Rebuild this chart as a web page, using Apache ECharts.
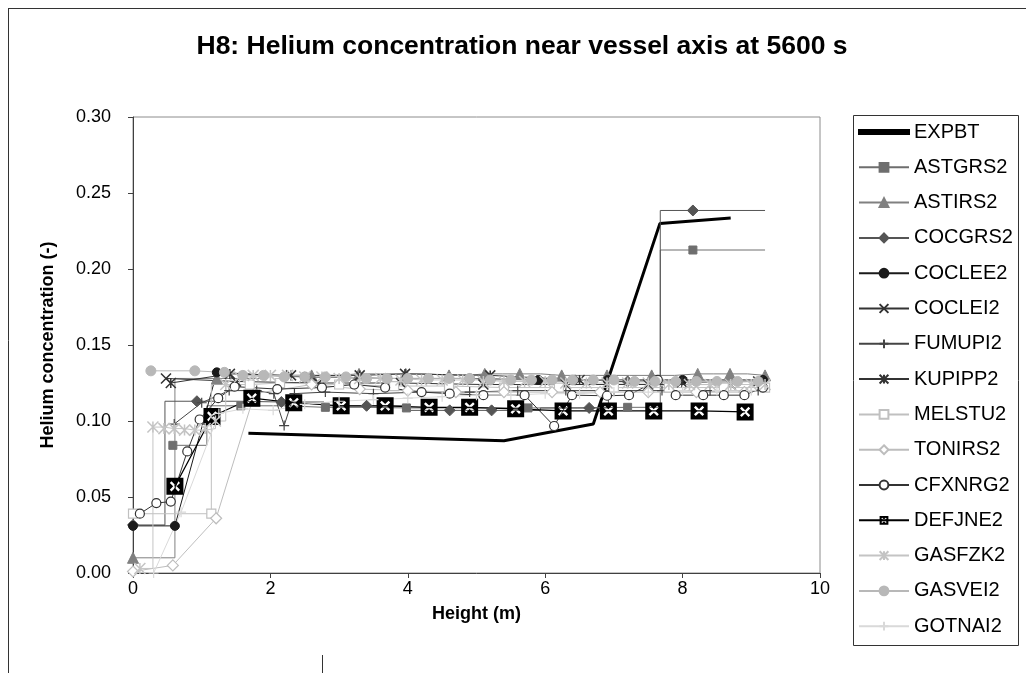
<!DOCTYPE html>
<html>
<head>
<meta charset="utf-8">
<script src="https://cdn.jsdelivr.net/npm/echarts@6/dist/echarts.min.js"></script>
<style>
  html, body { margin: 0; padding: 0; background: #fff; }
  #chart { width: 1026px; height: 673px; }
</style>
</head>
<body>
<div id="chart"></div>
<script>
// values, [height (m), concentration (-)]
const titleText = "H8: Helium concentration near vessel axis at 5600 s";
const seriesNames = ["EXPBT", "ASTGRS2", "ASTIRS2", "COCGRS2", "COCLEE2", "COCLEI2", "FUMUPI2",
  "KUPIPP2", "MELSTU2", "TONIRS2", "CFXNRG2", "DEFJNE2", "GASFZK2", "GASVEI2", "GOTNAI2"];

const expbt = [[1.68, 0.092], [5.4, 0.087], [6.7, 0.098], [7.67, 0.230], [8.7, 0.2335]];
const astgrs2 = [[0.58, 0.084], [1.57, 0.110], [2.8, 0.109], [3.98, 0.1086], [5.75, 0.1086], [7.2, 0.109], [8.15, 0.2125]];
const astgrs2Tail = [[8.15, 0.2125], [9.2, 0.2125]];
const astirs2 = [[0, 0.010], [1.22, 0.128], [2.6, 0.130], [3.29, 0.131], [3.97, 0.131], [4.6, 0.130], [5.12, 0.131],
  [5.63, 0.131], [6.24, 0.130], [6.9, 0.130], [7.55, 0.130], [8.22, 0.131], [8.69, 0.131], [9.2, 0.130]];
const cocgrs2 = [[0, 0.0316], [0.93, 0.113], [2.16, 0.1125], [3.4, 0.110], [4.61, 0.107], [5.22, 0.107],
  [6.64, 0.1086], [7.2, 0.126], [8.15, 0.2385]];
const cocgrs2Tail = [[8.15, 0.2385], [9.2, 0.2385]];
const coclee2 = [[0, 0.031], [0.61, 0.031], [1.22, 0.132], [2.5, 0.129], [3.7, 0.128], [4.9, 0.128], [5.9, 0.127],
  [6.91, 0.127], [8.0, 0.127], [9.17, 0.127]];
const coclei2 = [[0.48, 0.128], [1.5, 0.126], [2.7, 0.125], [3.9, 0.125], [5.1, 0.124], [6.3, 0.124], [7.5, 0.124], [8.7, 0.124]];
const fumupi2 = [[0.6, 0.098], [1.0, 0.112], [1.4, 0.120], [1.8, 0.120], [2.05, 0.118], [2.2, 0.097], [2.35, 0.118],
  [2.8, 0.119], [3.5, 0.118], [4.2, 0.119], [4.9, 0.119], [5.6, 0.120], [6.3, 0.120], [7.0, 0.120], [7.7, 0.120],
  [8.4, 0.120], [9.1, 0.120]];
const kupipp2 = [[0.55, 0.125], [1.41, 0.131], [2.3, 0.130], [3.3, 0.130], [3.96, 0.131], [5.2, 0.130], [6.5, 0.127],
  [7.99, 0.1255], [9.1, 0.126]];
const melstu2 = [[0, 0.039], [1.14, 0.039], [1.7, 0.124], [2.14, 0.125], [3.0, 0.124], [3.8, 0.123], [4.6, 0.123],
  [5.4, 0.122], [6.2, 0.122], [7.0, 0.122], [7.8, 0.122], [8.6, 0.122], [9.2, 0.122]];
const tonirs2 = [[0, 0.001], [0.58, 0.005], [1.21, 0.036], [1.77, 0.118], [2.6, 0.124], [3.3, 0.121], [4.0, 0.120],
  [4.7, 0.119], [5.4, 0.119], [6.1, 0.119], [6.8, 0.119], [7.5, 0.119], [8.2, 0.119], [8.9, 0.119]];
const cfxnrg2 = [[0.1, 0.039], [0.34, 0.046], [0.55, 0.047], [0.79, 0.080], [0.97, 0.101], [1.24, 0.115], [1.48, 0.1226],
  [2.1, 0.121], [2.75, 0.122], [3.22, 0.124], [3.67, 0.122], [4.2, 0.119], [4.61, 0.118], [5.1, 0.117], [5.7, 0.117],
  [6.13, 0.0967], [6.39, 0.117], [6.9, 0.1166], [7.22, 0.117], [7.64, 0.127], [7.9, 0.117], [8.3, 0.117],
  [8.6, 0.117], [8.9, 0.117], [9.17, 0.122]];
const defjne2 = [[0.61, 0.057], [1.15, 0.103], [1.73, 0.115], [2.34, 0.112], [3.03, 0.110], [3.67, 0.110], [4.31, 0.109],
  [4.9, 0.109], [5.57, 0.108], [6.26, 0.1066], [6.92, 0.1066], [7.58, 0.1066], [8.24, 0.1066], [8.91, 0.106]];
const gasfzk2 = [[0.1, 0.003], [0.29, 0.096], [0.45, 0.095], [0.6, 0.095], [0.75, 0.094], [0.9, 0.094], [1.05, 0.095],
  [1.2, 0.100], [1.35, 0.124], [1.55, 0.129], [1.75, 0.130], [2.0, 0.130], [2.25, 0.130], [2.5, 0.129], [2.75, 0.129],
  [3.0, 0.128], [3.3, 0.128], [3.6, 0.128], [3.9, 0.127], [4.2, 0.127], [4.5, 0.127], [4.8, 0.127], [5.1, 0.126],
  [5.4, 0.126], [5.7, 0.126], [6.0, 0.126], [6.3, 0.125], [6.6, 0.125], [6.9, 0.125], [7.2, 0.125], [7.5, 0.125],
  [7.8, 0.124], [8.1, 0.124], [8.4, 0.124], [8.7, 0.124], [9.0, 0.124], [9.2, 0.124]];
const gasvei2 = [[0.26, 0.133], [0.9, 0.133], [1.33, 0.132], [1.6, 0.130], [1.9, 0.130], [2.2, 0.129], [2.5, 0.129],
  [2.8, 0.129], [3.1, 0.129], [3.4, 0.128], [3.7, 0.128], [4.0, 0.128], [4.3, 0.128], [4.6, 0.128], [4.9, 0.128],
  [5.2, 0.127], [5.5, 0.127], [5.8, 0.127], [6.1, 0.127], [6.4, 0.127], [6.7, 0.127], [7.0, 0.127], [7.3, 0.126],
  [7.6, 0.126], [7.9, 0.126], [8.2, 0.126], [8.5, 0.126], [8.8, 0.126], [9.1, 0.126]];
const gotnai2 = [[0.3, 0.0], [0.7, 0.040], [1.25, 0.105], [1.6, 0.108], [2.04, 0.107], [2.5, 0.111], [3.0, 0.113],
  [3.5, 0.114], [4.0, 0.115], [4.5, 0.116], [5.0, 0.117], [5.5, 0.117], [6.0, 0.118], [6.5, 0.118], [7.0, 0.119],
  [7.5, 0.119], [8.0, 0.120], [8.5, 0.120], [9.0, 0.120]];

const FONT = '"Liberation Sans", Arial, sans-serif';
const SYM_X = 'path://M0,0L10,10M10,0L0,10';
const SYM_PLUS = 'path://M5,0L5,10M0,5L10,5';
const SYM_STAR = 'path://M5,0L5,10M0,0L10,10M10,0L0,10';
const SYM_BOXX = 'path://M0,0L100,0L100,100L0,100ZM40,50L20,70L30,80L50,60L70,80L80,70L60,50L80,30L70,20L50,40L30,20L20,30Z';
const ICON_THICK = 'path://M0,0L50,0L50,4L0,4Z';

function line(name, data, color, o) {
  o = o || {};
  return {
    name: name,
    type: 'line',
    data: data,
    step: o.step || false,
    symbol: o.symbol || 'none',
    symbolSize: o.size || 8,
    showAllSymbol: true,
    lineStyle: { color: color, width: o.width || 1 },
    itemStyle: {
      color: o.fill || color,
      borderColor: color,
      borderWidth: o.border == null ? 1 : o.border
    },
    emphasis: { disabled: true },
    z: o.z || 2
  };
}

const legendData = seriesNames.map(function (n) {
  return n === 'EXPBT' ? { name: n, icon: ICON_THICK } : { name: n };
});

const chart = echarts.init(document.getElementById('chart'), null, { renderer: 'canvas' });

chart.setOption({
  animation: false,
  backgroundColor: '#fff',
  textStyle: { fontFamily: FONT },
  grid: {
    left: 133, top: 117, width: 687, height: 456,
    show: true, borderColor: '#8c8c8c', borderWidth: 1, backgroundColor: 'transparent'
  },
  legend: {
    data: legendData,
    orient: 'vertical',
    left: 853,
    top: 117,
    padding: 5,
    itemWidth: 50,
    itemHeight: 11,
    itemGap: 15.3,
    textStyle: { fontSize: 20, color: '#000', fontFamily: FONT }
  },
  xAxis: {
    type: 'value', min: 0, max: 10, interval: 2,
    name: 'Height (m)', nameLocation: 'middle', nameGap: 32,
    nameTextStyle: { fontSize: 18, fontWeight: 'bold', color: '#000' },
    axisLine: { show: true, lineStyle: { color: '#404040' } },
    axisTick: { show: true, length: 5, lineStyle: { color: '#404040' } },
    axisLabel: { fontSize: 18, color: '#000', margin: 7 },
    splitLine: { show: false }
  },
  yAxis: {
    type: 'value', min: 0, max: 0.3, interval: 0.05,
    name: 'Helium concentration (-)', nameLocation: 'middle', nameGap: 76, nameRotate: 90,
    nameTextStyle: { fontSize: 18, fontWeight: 'bold', color: '#000' },
    axisLine: { show: true, lineStyle: { color: '#404040' } },
    axisTick: { show: true, length: 5, lineStyle: { color: '#404040' } },
    axisLabel: { fontSize: 18, color: '#000', margin: 22, formatter: function (v) { return v.toFixed(2); } },
    splitLine: { show: false }
  },
  graphic: [
    { type: 'line', shape: { x1: 8.5, y1: 8, x2: 8.5, y2: 673 }, style: { stroke: '#333', lineWidth: 1 } },
    { type: 'line', shape: { x1: 8, y1: 8.5, x2: 1026, y2: 8.5 }, style: { stroke: '#333', lineWidth: 1 } },
    { type: 'line', shape: { x1: 322.5, y1: 655, x2: 322.5, y2: 673 }, style: { stroke: '#333', lineWidth: 1 } },
    { type: 'rect', shape: { x: 853.5, y: 115.5, width: 165, height: 530 }, style: { fill: 'none', stroke: '#333', lineWidth: 1 } },
    { type: 'text', x: 522, y: 47, style: { text: titleText, font: 'bold 26.5px ' + FONT, fill: '#000', textAlign: 'center', textVerticalAlign: 'middle' } }
  ],
  series: [
    line('EXPBT', expbt, '#000', { width: 3 }),
    line('ASTGRS2', astgrs2, '#6e6e6e', { symbol: 'rect', size: 8, step: 'middle' }),
    line('ASTIRS2', astirs2, '#808080', { symbol: 'triangle', size: 11, step: 'middle' }),
    line('COCGRS2', cocgrs2, '#555', { symbol: 'diamond', size: 11, step: 'middle' }),
    line('COCLEE2', coclee2, '#1a1a1a', { symbol: 'circle', size: 9 }),
    line('COCLEI2', coclei2, '#333', { symbol: SYM_X, size: 10, border: 1.5 }),
    line('FUMUPI2', fumupi2, '#444', { symbol: SYM_PLUS, size: 10, border: 1.2 }),
    line('KUPIPP2', kupipp2, '#333', { symbol: SYM_STAR, size: 10, border: 1.5 }),
    line('MELSTU2', melstu2, '#c0c0c0', { symbol: 'rect', fill: '#fff', size: 9, step: 'start', border: 1.2 }),
    line('TONIRS2', tonirs2, '#bdbdbd', { symbol: 'diamond', fill: '#fff', size: 11, border: 1.2 }),
    line('CFXNRG2', cfxnrg2, '#333', { symbol: 'circle', fill: '#fff', size: 9, border: 1.2 }),
    line('DEFJNE2', defjne2, '#000', { symbol: SYM_BOXX, size: 17, border: 0, width: 1.2 }),
    line('GASFZK2', gasfzk2, '#c4c4c4', { symbol: SYM_STAR, size: 11, step: 'end', border: 1.5 }),
    line('GASVEI2', gasvei2, '#b8b8b8', { symbol: 'circle', size: 10 }),
    line('GOTNAI2', gotnai2, '#d9d9d9', { symbol: SYM_PLUS, size: 10, border: 1.2 }),
    line('ASTGRS2', astgrs2Tail, '#6e6e6e', {}),
    line('COCGRS2', cocgrs2Tail, '#555', {})
  ]
});
</script>
</body>
</html>
